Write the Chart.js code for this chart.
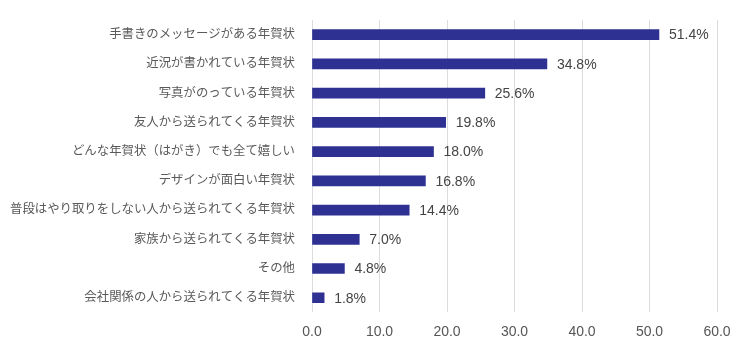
<!DOCTYPE html>
<html>
<head>
<meta charset="utf-8">
<script src="https://cdn.jsdelivr.net/npm/chart.js@4"></script>
<style>
  body { margin: 0; background: #fff; }
  #wrap { width: 750px; height: 353px; }
</style>
</head>
<body>
<div id="wrap"><canvas id="myChart"></canvas></div>
<script>
const labels = [
    "手書きのメッセージがある年賀状",
    "近況が書かれている年賀状",
    "写真がのっている年賀状",
    "友人から送られてくる年賀状",
    "どんな年賀状（はがき）でも全て嬉しい",
    "デザインが面白い年賀状",
    "普段はやり取りをしない人から送られてくる年賀状",
    "家族から送られてくる年賀状",
    "その他",
    "会社関係の人から送られてくる年賀状"
];
const values = [51.4, 34.8, 25.6, 19.8, 18.0, 16.8, 14.4, 7.0, 4.8, 1.8];
const xTicks = [0, 10, 20, 30, 40, 50, 60];

const fontFamily = '"Liberation Sans", "Noto Sans CJK JP", sans-serif';

// value labels at the end of each bar
const valueLabels = {
    id: 'valueLabels',
    afterDatasetsDraw(chart) {
        const ctx = chart.ctx;
        const meta = chart.getDatasetMeta(0);
        ctx.save();
        ctx.font = '14px ' + fontFamily;
        ctx.fillStyle = '#444';
        ctx.textAlign = 'left';
        ctx.textBaseline = 'middle';
        meta.data.forEach(function(bar, i) {
            ctx.fillText(values[i].toFixed(1) + '%', bar.x + 10, bar.y + 1);
        });
        ctx.restore();
    }
};

const data = {
    labels: labels,
    datasets: [
        {
            data: values,
            backgroundColor: '#2e3192',
            barThickness: 10
        }
    ]
};

const config = {
    type: 'bar',
    data,
    options: {
        indexAxis: 'y',
        responsive: true,
        maintainAspectRatio: false,
        animation: false,
        layout: {
            padding: { top: 20, right: 33, left: 0, bottom: 0 }
        },
        scales: {
            x: {
                min: 0,
                max: 60,
                afterBuildTicks: function(scale) {
                    scale.ticks = xTicks.map(v => ({ value: v }));
                },
                afterFit: function(scale) { scale.height = 40.6; },
                grid: { color: '#dcdcdc', drawTicks: false },
                border: { display: false },
                ticks: {
                    padding: 11,
                    color: '#555',
                    font: { size: 14, family: fontFamily },
                    callback: v => v.toFixed(1)
                }
            },
            y: {
                afterFit: function(scale) {
                    scale.width = 312;
                    scale.paddingTop = 0;
                    scale.paddingBottom = 0;
                },
                grid: { display: false, drawTicks: false },
                border: { display: false },
                ticks: {
                    padding: 17,
                    color: '#595959',
                    font: { size: 12.4, family: fontFamily }
                }
            }
        },
        plugins: {
            legend: { display: false },
            tooltip: { enabled: false }
        }
    },
    plugins: [valueLabels]
};

const myChart = new Chart(
    document.getElementById('myChart'),
    config,
);
</script>
</body>
</html>
